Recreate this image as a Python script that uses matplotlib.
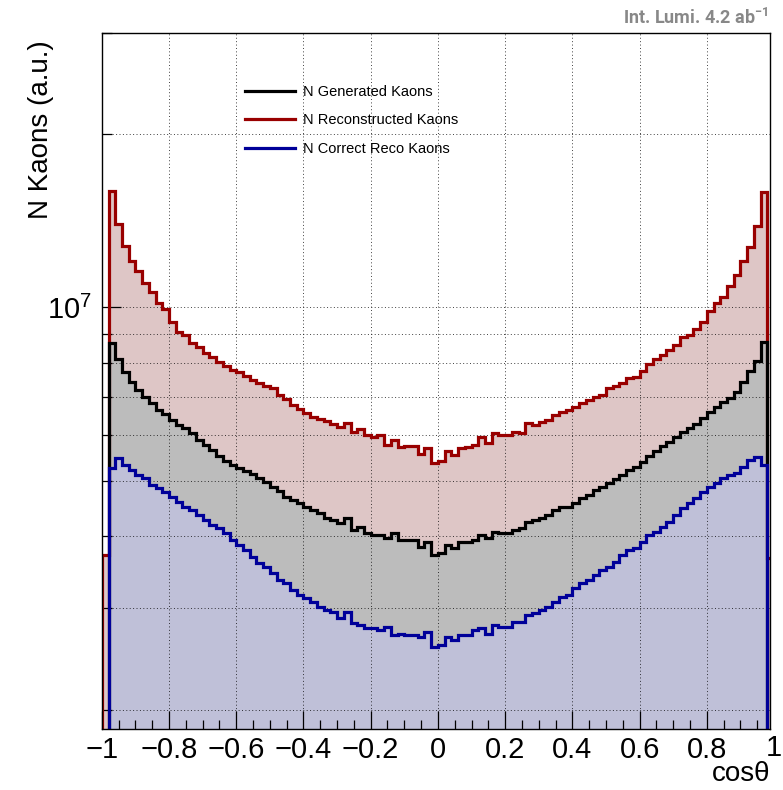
import numpy as np
import matplotlib
matplotlib.use('Agg')
import matplotlib.pyplot as plt
from matplotlib.ticker import LogLocator, NullFormatter, MultipleLocator
from matplotlib.lines import Line2D
import matplotlib.transforms as mtransforms

plt.rcParams['font.family'] = ['Liberation Sans', 'DejaVu Sans']
plt.rcParams['mathtext.fontset'] = 'custom'
plt.rcParams['mathtext.rm'] = 'Roboto'
plt.rcParams['mathtext.bf'] = 'Roboto:bold'

# ── data: 100 bins in cos(theta) on [-1, 1], counts in units of 1e6 ──────────
bin_edges = np.linspace(-1.0, 1.0, 101)

# reconstructed kaons: all 100 bins
n_reco = [
    3.71, 15.92, 13.95, 12.77, 12.02, 11.55, 11.05, 10.62, 10.20, 9.92,
    9.42, 9.08, 8.97, 8.69, 8.52, 8.35, 8.21, 8.05, 7.92, 7.80,
    7.71, 7.61, 7.49, 7.40, 7.31, 7.23, 7.05, 6.94, 6.78, 6.67,
    6.56, 6.46, 6.41, 6.36, 6.28, 6.20, 6.30, 6.08, 6.15, 6.01,
    5.96, 6.01, 5.77, 5.89, 5.73, 5.75, 5.75, 5.57, 5.70, 5.37,
    5.41, 5.63, 5.54, 5.70, 5.73, 5.77, 5.96, 5.82, 6.06, 6.01,
    6.01, 6.08, 6.06, 6.30, 6.25, 6.33, 6.38, 6.51, 6.59, 6.64,
    6.72, 6.83, 6.91, 7.00, 7.05, 7.23, 7.31, 7.40, 7.55, 7.58,
    7.74, 7.96, 8.12, 8.28, 8.45, 8.62, 8.87, 8.97, 9.16, 9.42,
    9.84, 10.20, 10.41, 10.88, 11.41, 12.02, 12.72, 13.84, 15.86, 3.67,
]

# generated and correctly reconstructed kaons: bins 1..98 (edge bins empty)
n_gen = [
    8.69, 8.12, 7.71, 7.43, 7.20, 7.00, 6.83, 6.64, 6.54, 6.38,
    6.25, 6.18, 6.06, 5.89, 5.77, 5.66, 5.52, 5.41, 5.33, 5.26,
    5.20, 5.14, 5.06, 4.98, 4.88, 4.80, 4.69, 4.63, 4.57, 4.50,
    4.45, 4.39, 4.30, 4.27, 4.22, 4.30, 4.10, 4.15, 4.05, 4.02,
    4.02, 3.97, 4.05, 3.94, 3.94, 3.94, 3.83, 3.91, 3.71, 3.74,
    3.86, 3.82, 3.91, 3.91, 3.94, 4.02, 3.97, 4.07, 4.05, 4.05,
    4.10, 4.14, 4.24, 4.27, 4.30, 4.36, 4.45, 4.50, 4.50, 4.57,
    4.67, 4.72, 4.82, 4.88, 4.96, 5.04, 5.12, 5.22, 5.28, 5.39,
    5.52, 5.63, 5.75, 5.84, 5.96, 6.08, 6.18, 6.28, 6.43, 6.59,
    6.72, 6.86, 6.97, 7.14, 7.43, 7.74, 8.08, 8.72,
]

n_correct = [
    5.26, 5.48, 5.33, 5.22, 5.12, 5.06, 4.92, 4.86, 4.78, 4.69,
    4.59, 4.50, 4.45, 4.36, 4.27, 4.19, 4.14, 4.05, 3.94, 3.86,
    3.79, 3.68, 3.59, 3.54, 3.45, 3.36, 3.32, 3.23, 3.16, 3.12,
    3.07, 3.01, 2.98, 2.95, 2.89, 2.95, 2.83, 2.80, 2.77, 2.77,
    2.75, 2.78, 2.69, 2.71, 2.69, 2.69, 2.67, 2.73, 2.57, 2.59,
    2.67, 2.64, 2.69, 2.69, 2.75, 2.77, 2.71, 2.80, 2.78, 2.78,
    2.84, 2.84, 2.92, 2.94, 2.98, 3.01, 3.07, 3.14, 3.16, 3.25,
    3.32, 3.36, 3.42, 3.49, 3.54, 3.61, 3.71, 3.79, 3.82, 3.91,
    4.02, 4.07, 4.15, 4.24, 4.36, 4.48, 4.57, 4.67, 4.78, 4.88,
    4.96, 5.06, 5.12, 5.16, 5.28, 5.44, 5.50, 5.33,
]

labels = ['N Generated Kaons', 'N Reconstructed Kaons', 'N Correct Reco Kaons']

# ── style ─────────────────────────────────────────────────────────────────────
RED, BLACK, BLUE = '#990000', '#000000', '#000099'
FILL_RED, FILL_BLACK, FILL_BLUE = '#dec6c6', '#bcbcbc', '#bfc0d8'
BASE = 1e6

fig = plt.figure(figsize=(7.83, 7.90), dpi=100)
ax = fig.add_axes([101.8 / 783, 1 - 729 / 790, 668.2 / 783, 696 / 790])
ax.set_yscale('log')

reco = np.array(n_reco) * 1e6
gen = np.array(n_gen) * 1e6
corr = np.array(n_correct) * 1e6
inner_edges = bin_edges[1:-1]

# fills (drawn first, grid goes on top like the ROOT pattern fill)
ax.stairs(reco, bin_edges, baseline=BASE, fill=True, color=FILL_RED, lw=0, zorder=1.0)
ax.stairs(gen, inner_edges, baseline=BASE, fill=True, color=FILL_BLACK, lw=0, zorder=1.1)
ax.stairs(corr, inner_edges, baseline=BASE, fill=True, color=FILL_BLUE, lw=0, zorder=1.2)

# outlines
ax.stairs(reco, bin_edges, baseline=BASE, fill=False, color=RED, lw=2.3, zorder=3.0)
ax.stairs(gen, inner_edges, baseline=BASE, fill=False, color=BLACK, lw=2.3, zorder=3.1)
ax.stairs(corr, inner_edges, baseline=BASE, fill=False, color=BLUE, lw=2.3, zorder=3.2)

ax.set_xlim(-1.0, 0.988)
ax.set_ylim(1.85e6, 3.0e7)

# ticks
ax.xaxis.set_major_locator(MultipleLocator(0.2))
ax.xaxis.set_minor_locator(MultipleLocator(0.05))
ax.yaxis.set_major_locator(LogLocator(base=10))
ax.yaxis.set_minor_locator(LogLocator(base=10, subs=np.arange(2, 10)))
ax.yaxis.set_minor_formatter(NullFormatter())
ax.xaxis.set_major_formatter(matplotlib.ticker.FuncFormatter(
    lambda v, p: ('%g' % round(v, 2)).replace('-', '\u2212')))

ax.tick_params(axis='x', which='major', direction='in', length=13, width=0.9,
               labelsize=21, pad=5, top=False)
ax.tick_params(axis='x', which='minor', direction='in', length=6.5, width=0.9, top=False)
ax.tick_params(axis='y', which='major', direction='in', length=14, width=0.9,
               labelsize=21, pad=7, right=False)
ax.tick_params(axis='y', which='minor', direction='in', length=7, width=0.9, right=False)

# ROOT prints the "1" label although the frame stops just short of it
trans = mtransforms.blended_transform_factory(ax.transData, ax.transAxes)
ax.text(1.0, -5 / 696, '1', transform=trans, fontsize=21, ha='center', va='top',
        clip_on=False)

# grid
ax.set_axisbelow(False)
ax.grid(True, which='major', axis='x', color='black', lw=0.7, ls=(0, (1, 2.5)), alpha=0.75)
ax.grid(True, which='both', axis='y', color='black', lw=0.7, ls=(0, (1, 2.5)), alpha=0.75)

for s in ax.spines.values():
    s.set_linewidth(1.0)
    s.set_zorder(4)

ax.set_xlabel('cos\u03b8', loc='right', fontsize=20, labelpad=-2)
ax.set_ylabel('N Kaons (a.u.)', fontsize=20)
ax.yaxis.set_label_coords(-0.072, 0.99)
ax.yaxis.label.set_horizontalalignment('right')

handles = [Line2D([], [], color=c, lw=2.3) for c in (BLACK, RED, BLUE)]
ax.legend(handles, labels, loc='upper left', bbox_to_anchor=(0.2143, 0.925),
          frameon=False, fontsize=10.5, handlelength=3.4, handletextpad=0.55,
          labelspacing=0.98, borderpad=0, borderaxespad=0)

fig.text(768 / 783, 1 - 8 / 790, r'Int. Lumi. 4.2 ab$^{\mathbf{-1}}$',
         ha='right', va='top', fontsize=13, fontweight='bold', color='#888888',
         family='Roboto')

fig.savefig('out.png', dpi=100)
